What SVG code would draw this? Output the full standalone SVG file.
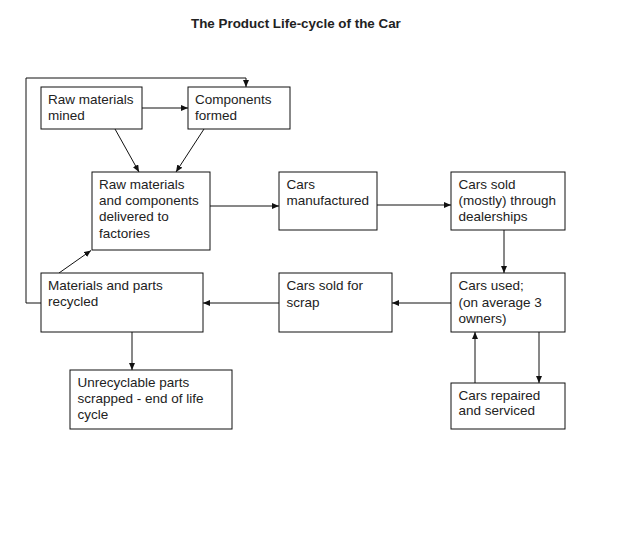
<svg xmlns="http://www.w3.org/2000/svg" width="619" height="542" viewBox="0 0 619 542">
<style>
.box{fill:#fff;stroke:#111;stroke-width:1}
.t{font-family:"Liberation Sans",Arial,sans-serif;font-size:13.5px;fill:#222}
.title{font-family:"Liberation Sans",Arial,sans-serif;font-size:13.4px;font-weight:bold;fill:#222}
.c{fill:none;stroke:#111;stroke-width:1}
</style>
<defs>
<marker id="ah" viewBox="0 0 7 6" refX="7" refY="3" markerWidth="7" markerHeight="6" markerUnits="userSpaceOnUse" orient="auto">
<path d="M0,0 L7,3 L0,6 z" fill="#111"/>
</marker>
</defs>
<rect width="619" height="542" fill="#fff"/>
<text class="title" x="191" y="27.5">The Product Life-cycle of the Car</text>

<g id="connectors">
<line class="c" x1="142" y1="108" x2="188" y2="108" marker-end="url(#ah)"/>
<line class="c" x1="115" y1="129" x2="139" y2="172" marker-end="url(#ah)"/>
<line class="c" x1="204" y1="129" x2="176" y2="172" marker-end="url(#ah)"/>
<line class="c" x1="210" y1="206" x2="279" y2="206" marker-end="url(#ah)"/>
<line class="c" x1="377" y1="205" x2="451" y2="205" marker-end="url(#ah)"/>
<line class="c" x1="504" y1="230" x2="504" y2="273" marker-end="url(#ah)"/>
<line class="c" x1="451" y1="303" x2="392" y2="303" marker-end="url(#ah)"/>
<line class="c" x1="279" y1="303" x2="203" y2="303" marker-end="url(#ah)"/>
<line class="c" x1="59" y1="273" x2="91" y2="250.5" marker-end="url(#ah)"/>
<line class="c" x1="132" y1="332" x2="132" y2="370" marker-end="url(#ah)"/>
<line class="c" x1="539" y1="332" x2="539" y2="383" marker-end="url(#ah)"/>
<line class="c" x1="475" y1="383" x2="475" y2="332" marker-end="url(#ah)"/>
<polyline class="c" points="41,303 26,303 26,78 246,78 246,87" marker-end="url(#ah)"/>
</g>

<g id="mined">
<rect class="box" x="41" y="87" width="101" height="42"/>
<text class="t" x="48" y="104">Raw materials</text>
<text class="t" x="48" y="120">mined</text>
</g>
<g id="components">
<rect class="box" x="188" y="87" width="102" height="42"/>
<text class="t" x="195" y="104">Components</text>
<text class="t" x="195" y="120">formed</text>
</g>
<g id="delivered">
<rect class="box" x="92" y="172" width="118" height="78"/>
<text class="t" x="99" y="188.5">Raw materials</text>
<text class="t" x="99" y="205">and components</text>
<text class="t" x="99" y="221">delivered to</text>
<text class="t" x="99" y="237.5">factories</text>
</g>
<g id="manufactured">
<rect class="box" x="279" y="172" width="98" height="58"/>
<text class="t" x="286.5" y="188.5">Cars</text>
<text class="t" x="286.5" y="204.5">manufactured</text>
</g>
<g id="dealerships">
<rect class="box" x="451" y="172" width="114" height="58"/>
<text class="t" x="458.5" y="188.5">Cars sold</text>
<text class="t" x="458.5" y="204.5">(mostly) through</text>
<text class="t" x="458.5" y="220.5">dealerships</text>
</g>
<g id="used">
<rect class="box" x="451" y="273" width="114" height="59"/>
<text class="t" x="458.5" y="290">Cars used;</text>
<text class="t" x="458.5" y="306.5">(on average 3</text>
<text class="t" x="458.5" y="322.5">owners)</text>
</g>
<g id="scrap">
<rect class="box" x="279" y="273" width="113" height="59"/>
<text class="t" x="286.5" y="290">Cars sold for</text>
<text class="t" x="286.5" y="306.5">scrap</text>
</g>
<g id="recycled">
<rect class="box" x="41" y="273" width="162" height="59"/>
<text class="t" x="48" y="290">Materials and parts</text>
<text class="t" x="48" y="306">recycled</text>
</g>
<g id="unrecyclable">
<rect class="box" x="70" y="370" width="162" height="59"/>
<text class="t" x="77.5" y="386.5">Unrecyclable parts</text>
<text class="t" x="77.5" y="403">scrapped - end of life</text>
<text class="t" x="77.5" y="419">cycle</text>
</g>
<g id="repaired">
<rect class="box" x="451" y="383" width="114" height="46"/>
<text class="t" x="458.5" y="399.5">Cars repaired</text>
<text class="t" x="458.5" y="415">and serviced</text>
</g>
</svg>
